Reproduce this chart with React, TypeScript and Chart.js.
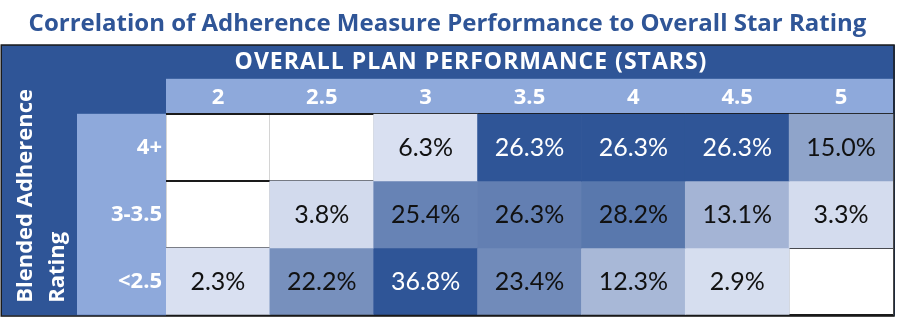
import React, { useEffect, useRef } from 'react';
import { Chart, registerables } from 'chart.js';

Chart.register(...registerables);

// ---- data ----
const chartTitle = 'Correlation of Adherence Measure Performance to Overall Star Rating';
const columnTitle = 'OVERALL PLAN PERFORMANCE (STARS)';
const rowTitleLines = ['Blended Adherence', 'Rating'];
const starLabels = ['2', '2.5', '3', '3.5', '4', '4.5', '5'];
const adherenceLabels = ['4+', '3-3.5', '<2.5'];
const row4Plus: (number | null)[] = [null, null, 6.3, 26.3, 26.3, 26.3, 15.0];
const row3to35: (number | null)[] = [null, 3.8, 25.4, 26.3, 28.2, 13.1, 3.3];
const rowBelow25: (number | null)[] = [2.3, 22.2, 36.8, 23.4, 12.3, 2.9, null];
const rowValues = [row4Plus, row3to35, rowBelow25];
// colour-scale group per row (conditional formatting ranges)
const colorGroups = [0, 1, 1];

// ---- styles ----
const DARK = '#2F5597';
const HEAD = '#8EA9DB';
const LIGHT_RGB = [217, 224, 241];
const DARK_RGB = [47, 85, 151];
const HFONT = '"Open Sans", Lato, sans-serif';
const VFONT = 'Lato, "Open Sans", sans-serif';

function groupRange(g: number) {
  const vals: number[] = [];
  rowValues.forEach((r, i) => {
    if (colorGroups[i] === g) r.forEach((v) => { if (v != null) vals.push(v); });
  });
  return [Math.min(...vals), Math.max(...vals)];
}

function shade(v: number, row: number) {
  const [lo, hi] = groupRange(colorGroups[row]);
  return hi > lo ? (v - lo) / (hi - lo) : 0;
}

function cellColor(v: number | null, row: number) {
  if (v == null) return 'rgba(0,0,0,0)';
  const t = shade(v, row);
  const c = LIGHT_RGB.map((l, i) => Math.round(l + (DARK_RGB[i] - l) * t));
  return `rgb(${c[0]},${c[1]},${c[2]})`;
}

const backgroundPlugin = {
  id: 'tableBackground',
  beforeDraw(chart: any) {
    const { ctx, chartArea: ca, width, height } = chart;
    ctx.save();
    ctx.fillStyle = '#ffffff';
    ctx.fillRect(0, 0, width, height);
    const top = ca.top - 69;
    ctx.fillStyle = DARK;
    ctx.fillRect(1, top, ca.right + 2 - 1, ca.bottom + 1 - top);
    ctx.fillStyle = HEAD;
    ctx.fillRect(ca.left, ca.top - 35, ca.right - ca.left, 35);
    ctx.fillRect(ca.left - 89, ca.top, 89, ca.bottom - ca.top);
    ctx.fillStyle = '#ffffff';
    ctx.fillRect(ca.left, ca.top, ca.right - ca.left, ca.bottom - ca.top);
    ctx.restore();
  },
  afterDraw(chart: any) {
    const { ctx, chartArea: ca } = chart;
    const top = ca.top - 69;
    ctx.save();
    // frame
    ctx.strokeStyle = '#1b1b1b';
    ctx.lineWidth = 1.5;
    ctx.strokeRect(1.25, top + 0.25, ca.right + 1 - 1.25, ca.bottom + 1 - top);
    // header titles
    ctx.fillStyle = '#ffffff';
    ctx.textAlign = 'center';
    ctx.textBaseline = 'middle';
    ctx.font = `bold 23px ${HFONT}`;
    (ctx as any).letterSpacing = '1px';
    ctx.fillText(columnTitle, ca.left + 305, top + 18);
    (ctx as any).letterSpacing = '0px';
    ctx.font = `bold 22px ${HFONT}`;
    ctx.translate(26, ca.bottom - 12);
    ctx.rotate(-Math.PI / 2);
    ctx.textAlign = 'left';
    rowTitleLines.forEach((line, i) => ctx.fillText(line, 0, i * 32));
    ctx.restore();
  },
};

const valueLabelPlugin = {
  id: 'cellValues',
  afterDatasetsDraw(chart: any) {
    const { ctx } = chart;
    ctx.save();
    ctx.font = `25px ${VFONT}`;
    ctx.textAlign = 'center';
    ctx.textBaseline = 'middle';
    chart.data.datasets.forEach((ds: any, di: number) => {
      const meta = chart.getDatasetMeta(di);
      meta.data.forEach((el: any, i: number) => {
        const v = rowValues[di][i];
        if (v == null) return;
        const { x, y } = el.getCenterPoint();
        ctx.fillStyle = shade(v, di) > 0.85 ? '#ffffff' : '#111111';
        ctx.fillText(v.toFixed(1) + '%', x, y + 1);
      });
    });
    ctx.restore();
  },
};

export default function App() {
  const ref = useRef<HTMLCanvasElement | null>(null);
  useEffect(() => {
    if (!ref.current) return;
    const chart = new Chart(ref.current, {
      type: 'bar',
      data: {
        labels: starLabels,
        datasets: rowValues.map((vals, r) => ({
          label: adherenceLabels[r],
          data: vals.map((v) => (v == null ? null : [r, r + 1])) as any,
          backgroundColor: vals.map((v) => cellColor(v, r)),
          borderWidth: 0,
          barPercentage: 1,
          categoryPercentage: 1,
          grouped: false,
          xAxisID: 'x',
          yAxisID: 'y',
        })),
      },
      options: {
        responsive: false,
        animation: false,
        layout: { padding: { left: 2, right: 4, bottom: 2, top: 0 } },
        plugins: {
          legend: { display: false },
          tooltip: { enabled: false },
          title: {
            display: true,
            text: chartTitle,
            color: DARK,
            font: { family: HFONT, size: 24, weight: 'bold' },
            padding: { top: 10, bottom: 6 },
          },
        },
        scales: {
          x: {
            type: 'category',
            position: 'top',
            offset: true,
            grid: { offset: true, color: '#D4D4D4', lineWidth: 1, drawTicks: false },
            border: { display: false },
            ticks: { color: '#ffffff', font: { family: HFONT, size: 22, weight: 'bold' }, padding: 3 },
            afterFit: (s: any) => { s.height = 69; },
          },
          y: {
            type: 'linear',
            reverse: true,
            min: 0,
            max: 3,
            display: false,
          },
          rows: {
            type: 'category',
            labels: adherenceLabels,
            position: 'left',
            offset: true,
            z: 1,
            grid: { offset: true, color: '#1a1a1a', lineWidth: 2, drawTicks: false },
            border: { display: false },
            ticks: { color: '#ffffff', font: { family: HFONT, size: 22, weight: 'bold' }, padding: 4 },
            afterFit: (s: any) => { s.width = 164; },
          },
        } as any,
      },
      plugins: [backgroundPlugin, valueLabelPlugin],
    });
    return () => chart.destroy();
  }, []);
  return (
    <div style={{ position: 'absolute', left: 0, top: 0, width: 897, height: 332 }}>
      <canvas ref={ref} width={897} height={332} style={{ display: 'block' }} />
    </div>
  );
}
